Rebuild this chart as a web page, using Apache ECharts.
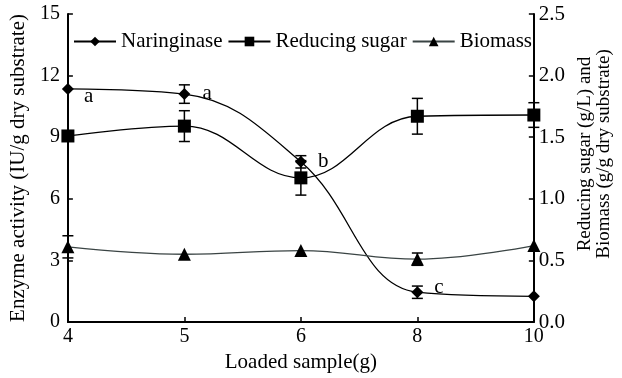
<!DOCTYPE html>
<html><head><meta charset="utf-8">
<script src="https://cdn.jsdelivr.net/npm/echarts@6/dist/echarts.min.js"></script>
<style>html,body{margin:0;padding:0;background:#fff}#c{width:622px;height:378px}</style>
</head><body><div id="c"></div>
<script>
var categories = ['4', '5', '6', '8', '10'];
var naringinase = [11.35, 11.1, 7.8, 1.45, 1.25];
var naringinaseErr = [0, 0.45, 0.3, 0.3, 0];
var naringinaseLetters = ['a', 'a', 'b', 'c', ''];
var reducingSugar = [1.51, 1.59, 1.17, 1.67, 1.68];
var reducingSugarErr = [0, 0.125, 0.14, 0.145, 0.1];
var biomass = [0.61, 0.55, 0.58, 0.51, 0.62];
var biomassErr = [0.09, 0, 0, 0.05, 0];
var leftTicks = [0, 15, 3];
var rightTicks = [0, 2.5, 0.5];

var FONT = "'Liberation Serif', 'Times New Roman', Times, serif";
var chart = echarts.init(document.getElementById('c'), null, {renderer: 'canvas'});

function errData(vals, errs) {
  return vals.map(function (v, i) { return [i, v, errs[i]]; });
}
function errSeries(vals, errs, axisIdx, color) {
  return {
    type: 'custom', yAxisIndex: axisIdx, silent: true, z: 1,
    data: errData(vals, errs),
    renderItem: function (params, api) {
      var e = api.value(2);
      if (!e) return null;
      var x = api.value(0), v = api.value(1);
      var top = api.coord([x, v + e]);
      var bot = api.coord([x, v - e]);
      var w = 5.5;
      var st = {stroke: color, lineWidth: 1.5};
      return {type: 'group', children: [
        {type: 'line', shape: {x1: top[0], y1: top[1], x2: bot[0], y2: bot[1]}, style: st},
        {type: 'line', shape: {x1: top[0] - w, y1: top[1], x2: top[0] + w, y2: top[1]}, style: st},
        {type: 'line', shape: {x1: bot[0] - w, y1: bot[1], x2: bot[0] + w, y2: bot[1]}, style: st}
      ]};
    }
  };
}

var letterOffsets = [[-2, 8], [0, -1], [-1, 0], [-1, -5], [0, 0]];

chart.setOption({
  animation: false,
  textStyle: {fontFamily: FONT},
  grid: {left: 66, right: 87, top: 14, bottom: 55},
  legend: {
    left: 73, top: 31, padding: 0, itemWidth: 42, itemHeight: 12, itemGap: 5,
    textStyle: {fontFamily: FONT, fontSize: 21, color: '#000'},
    data: ['Naringinase', 'Reducing sugar', 'Biomass']
  },
  xAxis: {
    type: 'category', data: categories, boundaryGap: false,
    name: 'Loaded sample(g)', nameLocation: 'middle', nameGap: 30,
    nameTextStyle: {fontFamily: FONT, fontSize: 21, color: '#000'},
    axisLine: {lineStyle: {color: '#000', width: 2}},
    axisTick: {inside: true, length: 5, lineStyle: {color: '#000', width: 1.5}},
    axisLabel: {margin: 5, fontFamily: FONT, fontSize: 20, color: '#000'},
    splitLine: {show: false}
  },
  yAxis: [{
    type: 'value', min: leftTicks[0], max: leftTicks[1], interval: leftTicks[2],
    name: 'Enzyme activity (IU/g dry substrate)', nameLocation: 'middle', nameRotate: 90, nameGap: 31,
    nameTextStyle: {fontFamily: FONT, fontSize: 21, color: '#000'},
    axisLine: {show: true, lineStyle: {color: '#000', width: 2}},
    axisTick: {show: true, inside: true, length: 5, lineStyle: {color: '#000', width: 1.5}},
    axisLabel: {margin: 8, fontFamily: FONT, fontSize: 20, color: '#000'},
    splitLine: {show: false}
  }, {
    type: 'value', min: rightTicks[0], max: rightTicks[1], interval: rightTicks[2],
    name: 'Reducing sugar (g/L) and\nBiomass (g/g dry substrate)', nameLocation: 'middle', nameRotate: 90, nameGap: 38,
    nameTextStyle: {fontFamily: FONT, fontSize: 19, color: '#000', lineHeight: 19, padding: [0, 0, 0, 28]},
    axisLine: {show: true, lineStyle: {color: '#000', width: 2}},
    axisTick: {show: true, inside: true, length: 5, lineStyle: {color: '#000', width: 1.5}},
    axisLabel: {margin: 5, fontFamily: FONT, fontSize: 21, color: '#000', formatter: function (v) { return v.toFixed(1); }},
    splitLine: {show: false}
  }],
  series: [
    errSeries(naringinase, naringinaseErr, 0, '#000'),
    errSeries(reducingSugar, reducingSugarErr, 1, '#000'),
    errSeries(biomass, biomassErr, 1, '#000'),
    {
      name: 'Naringinase', type: 'line', yAxisIndex: 0, smooth: 0.4,
      data: naringinase.map(function (v, i) {
        return {value: v, label: {offset: letterOffsets[i]}};
      }),
      symbol: 'diamond', symbolSize: 12,
      lineStyle: {color: '#000', width: 1.3}, itemStyle: {color: '#000'},
      label: {
        show: true, position: 'right', distance: 12,
        fontFamily: FONT, fontSize: 21, color: '#000',
        formatter: function (p) { return naringinaseLetters[p.dataIndex]; }
      }
    },
    {
      name: 'Reducing sugar', type: 'line', yAxisIndex: 1, smooth: 0.4,
      data: reducingSugar, symbol: 'rect', symbolSize: 13,
      lineStyle: {color: '#000', width: 1.3}, itemStyle: {color: '#000'}
    },
    {
      name: 'Biomass', type: 'line', yAxisIndex: 1, smooth: 0.4,
      data: biomass, symbol: 'triangle', symbolSize: 13,
      lineStyle: {color: '#3a4444', width: 1.3}, itemStyle: {color: '#000'}
    }
  ]
});
</script></body></html>
